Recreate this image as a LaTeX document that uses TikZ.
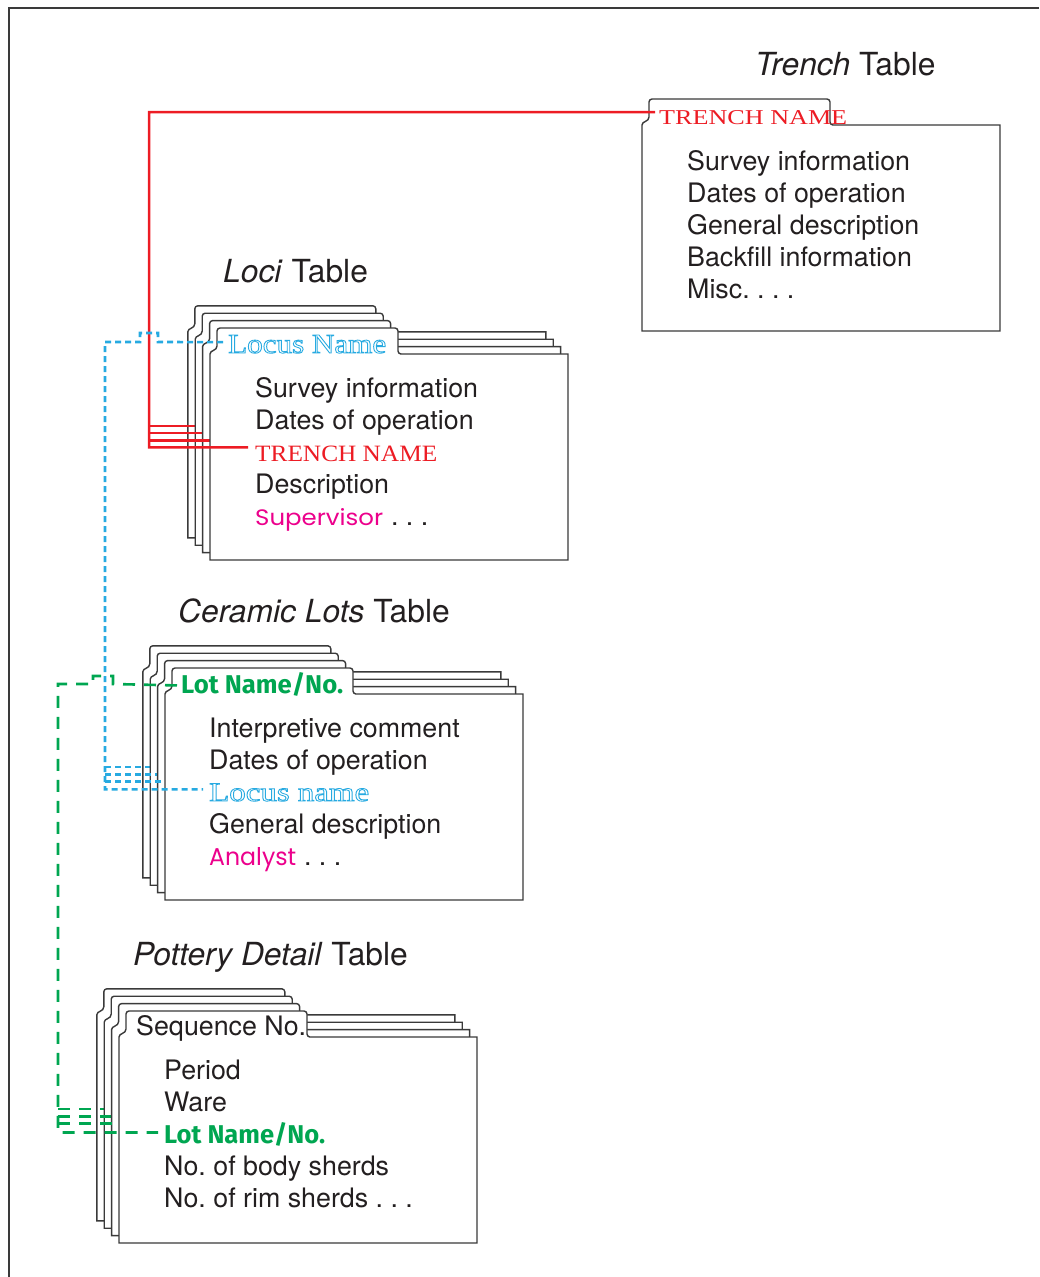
\documentclass[tikz,border=0pt]{standalone}
\usepackage{fontspec}
\usepackage{graphicx}
\setmainfont{TeX Gyre Heros}
\newfontfamily\capsfont{Liberation Serif}
\newfontfamily\inlinefont{Liberation Serif}
\newfontfamily\markerfont{Fira Sans}
\newfontfamily\casualfont{Poppins}
\frenchspacing

\definecolor{ink}{HTML}{231F20}
\definecolor{edge}{HTML}{3A3A3A}
\definecolor{keyred}{HTML}{ED1C24}
\definecolor{keyblue}{HTML}{27AAE1}
\definecolor{keygreen}{HTML}{00A651}
\definecolor{keypink}{HTML}{EC008C}

% hollow (stroked) lettering
\newcommand{\hollowtext}[1]{\special{pdf:literal direct 1 Tr 0.3 w}#1\special{pdf:literal direct 0 Tr}}

\tikzset{
  cardline/.style={draw=edge, line width=1.4pt, fill=white},
  frameline/.style={draw=edge, line width=2pt},
  redlink/.style={draw=keyred, line width=2.5pt},
  bluelink/.style={draw=keyblue, line width=2.6pt, dash pattern=on 6pt off 4pt},
  greenlink/.style={draw=keygreen, line width=2.6pt, dash pattern=on 12pt off 9pt},
  field/.style={inner sep=0pt, anchor=base west, text=ink, font=\fontsize{26.8}{32}\selectfont},
  tabletitle/.style={inner sep=0pt, anchor=base west, text=ink, font=\fontsize{31.8}{36}\selectfont},
  keyfield/.style={inner sep=0pt, anchor=base west},
}

% one index card with a tab; #1,#2 = bottom-left corner
\newcommand{\foldercard}[2]{%
  \path[cardline, shift={(#1,#2)}]
    (0,0) -- (0,-206) .. controls (0,-210) and (7,-209) .. (7,-214)
    [rounded corners=3pt] -- (7,-232) -- (188,-232) -- (188,-206) -- (193,-206)
    [sharp corners] -- (358,-206) -- (358,0) -- cycle;}

\begin{document}
\begin{tikzpicture}[x=1pt, y=-1pt]
\useasboundingbox (0,0) rectangle (1039,1277);

% outer frame
\draw[frameline] (1039,8) -- (9,8) -- (9,1277);

% link buses
\coordinate (redbus) at (149,112);
\coordinate (bluebus) at (105,342);
\coordinate (greenbus) at (58,684);

% ---------------- Trench table ----------------
\node[tabletitle] (trenchTitle) at (755,75) {\textit{Trench} Table};
\foldercard{642}{331}
\node[keyfield, text=keyred] (trenchKey) at (659,124) {\resizebox{188pt}{14pt}{\capsfont TRENCH NAME}};
\node[field] (tr1) at (687,170) {Survey information};
\node[field] (tr2) at (687,202) {Dates of operation};
\node[field] (tr3) at (687,234) {General description};
\node[field] (tr4) at (687,266) {Backfill information};
\node[field] (tr5) at (687,298) {Misc. . . .};

% ---------------- Loci table ----------------
\node[tabletitle] (lociTitle) at (223,282) {\textit{Loci} Table};
\foreach \k in {3,2,1}{
  \foldercard{210-7.4*\k}{560-7.4*\k}
  \coordinate (lociRow\k) at (248-7.4*\k,448-7.4*\k);
  \draw[redlink] (lociRow\k -| redbus) -- (lociRow\k);
}
\foldercard{210}{560}
\node[keyfield, text=keyblue] (lociKey) at (228,353) {\resizebox{158pt}{18pt}{\inlinefont\hollowtext{Locus Name}}};
\node[field] (lo1) at (255,397) {Survey information};
\node[field] (lo2) at (255,429) {Dates of operation};
\node[keyfield, text=keyred] (lociTrench) at (255,461) {\resizebox{182pt}{15.5pt}{\capsfont TRENCH NAME}};
\node[field] (lo4) at (255,493) {Description};
\node[keyfield, text=keypink] (lociSup) at (255,525) {\resizebox{128pt}{17pt}{\casualfont Supervisor}};
\node[field] (lo5) at (lociSup.base east) {\ . . .};

% ---------------- Ceramic Lots table ----------------
\node[tabletitle] (ceramTitle) at (178,622) {\textit{Ceramic Lots} Table};
\foreach \k in {3,2,1}{
  \foldercard{165-7.4*\k}{900-7.4*\k}
  \coordinate (ceramRow\k) at (203-7.4*\k,789-7.4*\k);
  \draw[bluelink] (ceramRow\k -| bluebus) -- (ceramRow\k);
}
\foldercard{165}{900}
\node[keyfield, text=keygreen] (ceramKey) at (181,693) {\resizebox{162pt}{21pt}{\markerfont\bfseries Lot Name/No.}};
\node[field] (ce1) at (209,737) {Interpretive comment};
\node[field] (ce2) at (209,769) {Dates of operation};
\node[keyfield, text=keyblue] (ceramLocus) at (209,801) {\resizebox{160pt}{17.5pt}{\inlinefont\hollowtext{Locus name}}};
\node[field] (ce4) at (209,833) {General description};
\node[keyfield, text=keypink] (ceramAna) at (209,865) {\resizebox{87pt}{18pt}{\casualfont Analyst}};
\node[field] (ce5) at (ceramAna.base east) {\ . . .};

% ---------------- Pottery Detail table ----------------
\node[tabletitle] (potTitle) at (133,965) {\textit{Pottery Detail} Table};
\foreach \k in {3,2,1}{
  \foldercard{119-7.4*\k}{1243-7.4*\k}
  \coordinate (potRow\k) at (158-7.4*\k,1131-7.4*\k);
  \draw[greenlink] (potRow\k -| greenbus) -- (potRow\k);
}
\foldercard{119}{1243}
\node[field] (potKey) at (136,1035) {Sequence No.};
\node[field] (po1) at (164,1079) {Period};
\node[field] (po2) at (164,1111) {Ware};
\node[keyfield, text=keygreen] (potLot) at (164,1143) {\resizebox{161pt}{21pt}{\markerfont\bfseries Lot Name/No.}};
\node[field] (po4) at (164,1175) {No. of body sherds};
\node[field] (po5) at (164,1207) {No. of rim sherds . . .};

% ---------------- links between tables ----------------
\draw[redlink] ([xshift=-4pt,yshift=5pt]trenchKey.west) -- (redbus)
  |- ([xshift=-7pt,yshift=6pt]lociTrench.west);
\draw[bluelink] ([xshift=-5pt,yshift=2pt]lociKey.west) -- (158,342) -- (158,333)
  -- (140,333) -- (140,342) -- (bluebus) |- ([xshift=-6pt,yshift=3pt]ceramLocus.west);
\draw[greenlink] ([xshift=-4pt,yshift=-1.5pt]ceramKey.west) -- (113,684) -- (113,676)
  -- (93,676) -- (93,684) -- (greenbus) |- ([xshift=-6pt,yshift=1.5pt]potLot.west);
\end{tikzpicture}
\end{document}
